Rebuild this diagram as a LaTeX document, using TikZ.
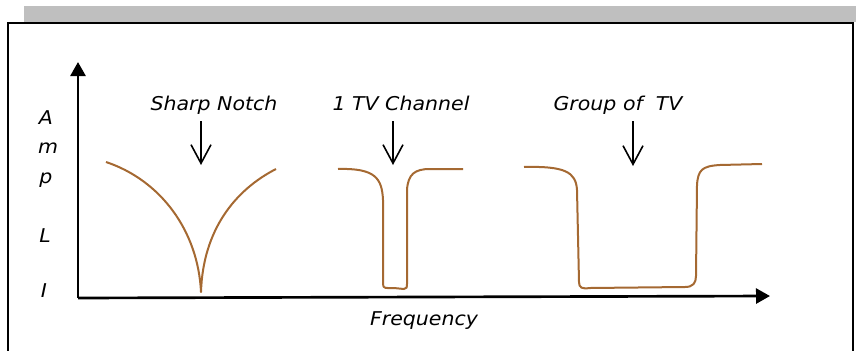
\documentclass[tikz,border=0pt]{standalone}
\usepackage{fontspec}
\setmainfont{DejaVu Sans}[FakeStretch=1.08]
\usetikzlibrary{arrows.meta}

\definecolor{curvebrown}{RGB}{165,105,50}
\definecolor{bargray}{RGB}{191,191,191}

\tikzstyle{axis}=[line width=2pt,-{Triangle[length=10.5pt,width=11.25pt]}]
\tikzstyle{pointer}=[line width=1.2pt,-{Straight Barb[length=14pt,width=15pt]}]
\tikzstyle{response}=[curvebrown,line width=1.5pt,line join=round]
\tikzstyle{label}=[anchor=base,inner sep=0pt,font=\fontsize{14.25}{17}\selectfont\itshape]

\begin{document}
\begin{tikzpicture}[x=0.75pt,y=-0.75pt]
\useasboundingbox (0,0) rectangle (856,350);
\fill[bargray] (24,6) rectangle (856,22);
\draw[line width=1.5pt] (8,23) rectangle (853,360);

% axes
\coordinate (O) at (78,298);
\coordinate (ytip) at (78,62);
\coordinate (xtip) at (770,296);
\draw[axis] (O) -- (ytip);
\draw[axis] (O) -- (xtip);

\node[label] (A) at (46,124) {A};
\node[label] (m) at (48,153) {m};
\node[label] (p) at (46,183) {p};
\node[label] (L) at (45,242) {L};
\node[label] (I) at (44,297) {I};
\node[label] (freq) at (424,325) {Frequency};

% titles, cut off below like the original text boxes
\begin{scope}
\clip (0,80) rectangle (856,113.5);
\node[label] (notch) at (214,110) {Sharp Notch};
\node[label] (chan) at (401,110) {1 TV Channel};
\node[label] (group) at (618,110) {Group of\ \ TV};
\end{scope}

\coordinate (notchtop) at (201,121);
\coordinate (notchtip) at (201,165);
\coordinate (chantop) at (393,121);
\coordinate (chantip) at (393,165);
\coordinate (grouptop) at (633,121);
\coordinate (grouptip) at (633,166);
\draw[pointer] (notchtop) -- (notchtip);
\draw[pointer] (chantop) -- (chantip);
\draw[pointer] (grouptop) -- (grouptip);

% responses
\draw[response] (106,162) .. controls (160,180) and (198,230) .. (201,292)
  .. controls (203,230) and (235,190) .. (276,169);
\draw[response] (338,169) .. controls (375,168) and (382,178) .. (383,200)
  -- (383,284) .. controls (383,289) and (386,288) .. (394,288)
  -- (404,289) .. controls (407,289) and (407,287) .. (407,284)
  -- (407,190) .. controls (408,174) and (415,169) .. (430,169) -- (463,169);
\draw[response] (524,167) .. controls (565,166) and (576,172) .. (577,190)
  -- (579,282) .. controls (579,288) and (582,289) .. (590,288)
  -- (685,287) .. controls (693,287) and (696,283) .. (696,276)
  -- (697,185) .. controls (698,170) and (702,166) .. (720,165) -- (762,164);
\end{tikzpicture}
\end{document}
